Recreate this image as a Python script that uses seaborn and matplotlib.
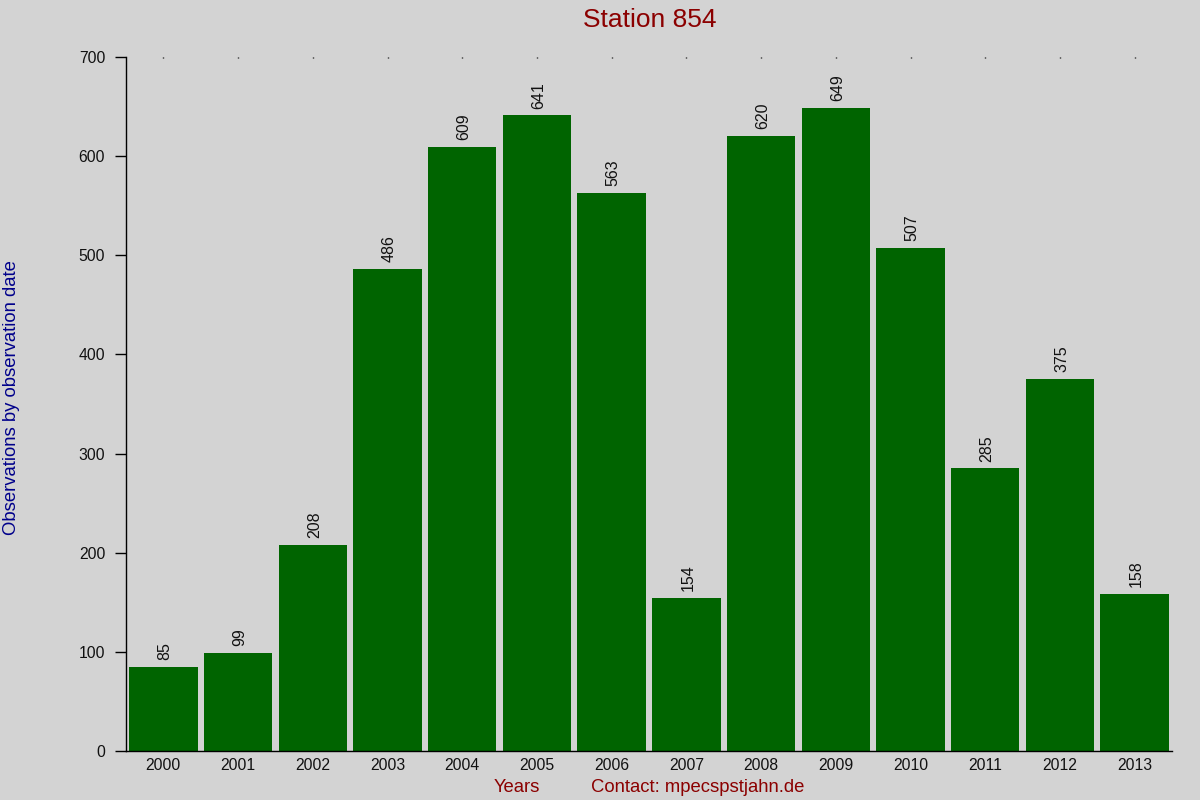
import matplotlib
matplotlib.use("Agg")
import matplotlib.pyplot as plt
import seaborn as sns
import pandas as pd

years = ["2000", "2001", "2002", "2003", "2004", "2005", "2006",
         "2007", "2008", "2009", "2010", "2011", "2012", "2013"]
observations = [85, 99, 208, 486, 609, 641, 563, 154, 620, 649, 507, 285, 375, 158]
y_ticks = [0, 100, 200, 300, 400, 500, 600, 700]

sns.set_theme(style="white")
plt.rcParams['font.family'] = ['Liberation Sans', 'DejaVu Sans']

bg = "#d3d3d3"
df = pd.DataFrame({"year": years, "obs": observations})

fig = plt.figure(figsize=(12, 8), dpi=100, facecolor=bg)
ax = fig.add_axes([0.105, 0.06125, 0.8717, 0.8675])
ax.set_facecolor(bg)

sns.barplot(data=df, x="year", y="obs", color="#006400", saturation=1,
            width=0.915, edgecolor="none", linewidth=0, ax=ax)

ax.set_ylim(0, 700)
ax.set_xlim(-0.5, 13.5)
ax.set_yticks(y_ticks)
ax.set_yticklabels([str(v) for v in y_ticks], fontsize=11.3, color="#111111")
ax.tick_params(axis="y", direction="out", length=8, width=1, color="black", pad=7, left=True)
ax.tick_params(axis="x", bottom=False, top=True, direction="in", length=1,
               width=1, color="black", labelsize=11.3, labelcolor="#111111", pad=5)

for s in ["top", "right"]:
    ax.spines[s].set_visible(False)
for s in ["left", "bottom"]:
    ax.spines[s].set_color("black")
    ax.spines[s].set_linewidth(1)

for i, v in enumerate(observations):
    ax.text(i + 0.02, v + 7, str(v), rotation=90, ha="center", va="bottom",
            fontsize=11.5, color="#111111")

ax.set_xlabel("")
ax.set_ylabel("")
fig.text(0.5417, 0.975, "Station 854", ha="center", va="center",
         fontsize=19, color="#8b0000")
fig.text(0.0095, 0.503, "Observations by observation date", rotation=90,
         ha="center", va="center", fontsize=13.3, color="#00008b")
fig.text(0.431, 0.016, "Years", ha="center", va="center", fontsize=13.3, color="#8b0000")
fig.text(0.581, 0.016, "Contact: mpecspstjahn.de", ha="center", va="center",
         fontsize=13.3, color="#8b0000")

fig.savefig("out.png", dpi=100, facecolor=bg)
